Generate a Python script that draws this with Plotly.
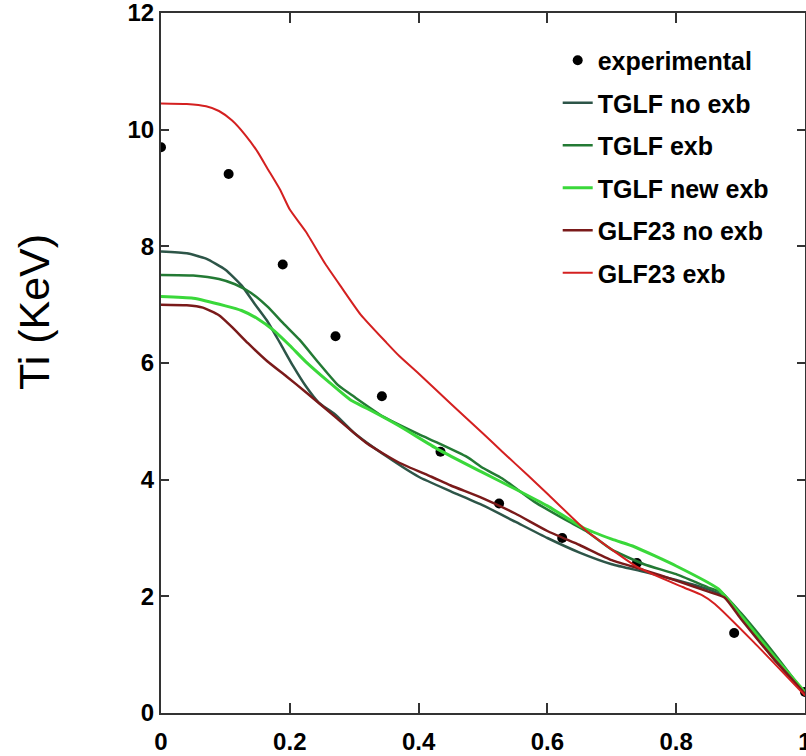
import plotly.graph_objects as go

# ---------------- data ----------------
exp_x = [0.0, 0.105, 0.189, 0.271, 0.343, 0.434, 0.525, 0.623, 0.739, 0.890, 1.0]
exp_y = [9.70, 9.24, 7.69, 6.46, 5.43, 4.48, 3.59, 3.00, 2.57, 1.37, 0.36]

tglf_noexb_x = [0, 0.04, 0.07, 0.10, 0.125, 0.145, 0.165, 0.185, 0.205, 0.225, 0.245, 0.27, 0.3, 0.35,
                0.4, 0.45, 0.5, 0.55, 0.6, 0.65, 0.7, 0.75, 0.8, 0.85, 0.875, 0.9, 0.95, 1.0]
tglf_noexb_y = [7.91, 7.88, 7.79, 7.60, 7.33, 7.02, 6.72, 6.34, 5.95, 5.60, 5.32, 5.12, 4.80, 4.40,
                4.05, 3.80, 3.56, 3.28, 3.00, 2.75, 2.55, 2.42, 2.28, 2.12, 2.0, 1.65, 0.95, 0.33]

tglf_exb_x = [0, 0.05, 0.09, 0.115, 0.14, 0.165, 0.19, 0.215, 0.245, 0.275, 0.3, 0.345, 0.4, 0.43, 0.475,
              0.5, 0.53, 0.58, 0.63, 0.66, 0.7, 0.75, 0.8, 0.85, 0.87, 0.9, 0.95, 1.0]
tglf_exb_y = [7.51, 7.50, 7.44, 7.35, 7.20, 6.97, 6.68, 6.40, 6.0, 5.62, 5.42, 5.08, 4.78, 4.63, 4.39,
              4.20, 4.02, 3.62, 3.30, 3.12, 2.80, 2.55, 2.38, 2.15, 2.07, 1.72, 1.05, 0.33]

tglf_newexb_x = [0, 0.05, 0.1, 0.125, 0.15, 0.175, 0.2, 0.225, 0.26, 0.295, 0.32, 0.37, 0.43, 0.5,
                 0.55, 0.6, 0.655, 0.7, 0.735, 0.8, 0.865, 0.9, 0.95, 1.0]
tglf_newexb_y = [7.14, 7.11, 6.98, 6.90, 6.76, 6.56, 6.30, 6.02, 5.68, 5.36, 5.22, 4.92, 4.52, 4.12,
                 3.84, 3.55, 3.18, 2.98, 2.85, 2.52, 2.13, 1.68, 1.0, 0.36]

glf23_noexb_x = [0, 0.04, 0.065, 0.09, 0.11, 0.135, 0.165, 0.195, 0.225, 0.27, 0.32, 0.37, 0.42, 0.45,
                 0.5, 0.55, 0.6, 0.65, 0.7, 0.75, 0.8, 0.85, 0.875, 0.9, 0.95, 1.0]
glf23_noexb_y = [7.0, 6.99, 6.95, 6.82, 6.62, 6.34, 6.03, 5.77, 5.50, 5.08, 4.62, 4.29, 4.05, 3.90,
                 3.68, 3.42, 3.12, 2.88, 2.62, 2.45, 2.27, 2.08, 1.98, 1.62, 0.95, 0.33]

glf23_exb_x = [0, 0.04, 0.07, 0.09, 0.11, 0.13, 0.15, 0.165, 0.185, 0.2, 0.225, 0.255, 0.28, 0.31, 0.35,
               0.37, 0.4, 0.45, 0.5, 0.53, 0.57, 0.6, 0.66, 0.74, 0.81, 0.84, 0.86, 0.92, 1.0]
glf23_exb_y = [10.45, 10.44, 10.40, 10.32, 10.16, 9.92, 9.62, 9.34, 8.97, 8.63, 8.25, 7.7, 7.3, 6.83, 6.35,
               6.12, 5.82, 5.30, 4.79, 4.48, 4.07, 3.76, 3.13, 2.50, 2.16, 2.02, 1.87, 1.22, 0.30]

x_ticks = [0, 0.2, 0.4, 0.6, 0.8, 1.0]
x_ticktext = ["0", "0.2", "0.4", "0.6", "0.8", "1"]
y_ticks = [0, 2, 4, 6, 8, 10, 12]
y_ticktext = ["0", "2", "4", "6", "8", "10", "12"]

FONT = "Liberation Sans, Arial"

# ---------------- figure ----------------
fig = go.Figure()
fig.add_trace(go.Scatter(x=exp_x, y=exp_y, mode="markers", name="experimental",
                         marker=dict(color="black", size=10), legendgroup="a"))
fig.add_trace(go.Scatter(x=tglf_noexb_x, y=tglf_noexb_y, mode="lines", name="TGLF no exb",
                         line=dict(color="#2d5548", width=2.5, shape="spline", smoothing=0.5), legendgroup="b"))
fig.add_trace(go.Scatter(x=tglf_exb_x, y=tglf_exb_y, mode="lines", name="TGLF exb",
                         line=dict(color="#237a34", width=2.5, shape="spline", smoothing=0.5), legendgroup="c"))
fig.add_trace(go.Scatter(x=tglf_newexb_x, y=tglf_newexb_y, mode="lines", name="TGLF new exb",
                         line=dict(color="#3ad83a", width=3, shape="spline", smoothing=0.5), legendgroup="d"))
fig.add_trace(go.Scatter(x=glf23_noexb_x, y=glf23_noexb_y, mode="lines", name="GLF23 no exb",
                         line=dict(color="#7a1a1a", width=2.5, shape="spline", smoothing=0.5), legendgroup="e"))
fig.add_trace(go.Scatter(x=glf23_exb_x, y=glf23_exb_y, mode="lines", name="GLF23 exb",
                         line=dict(color="#d42020", width=2, shape="spline", smoothing=0.5), legendgroup="f"))

axis_common = dict(showgrid=False, zeroline=False, showline=True, linecolor="#333333", linewidth=2,
                   ticks="inside", tickcolor="#333333", tickwidth=1.5, mirror="ticks",
                   tickfont=dict(family=FONT, size=24, color="black", weight="bold"),
                   ticklabeloverflow="allow", automargin=False)

fig.update_layout(
    width=806, height=756,
    margin=dict(l=161, r=1, t=13, b=43),
    paper_bgcolor="white", plot_bgcolor="white",
    font=dict(family=FONT, color="black"),
    xaxis=dict(range=[0, 1], tickvals=x_ticks, ticktext=x_ticktext, ticklen=10,
               ticklabelstandoff=6, **axis_common),
    yaxis=dict(range=[0, 12], tickvals=y_ticks, ticktext=y_ticktext, ticklen=8, **axis_common),
    legend=dict(x=0.616, y=0.965, xanchor="left", yanchor="top", bgcolor="rgba(255,255,255,0)",
                borderwidth=0, traceorder="grouped", tracegroupgap=7,
                font=dict(family=FONT, size=25, color="black", weight="bold")),
    showlegend=True,
    annotations=[dict(text="Ti (KeV)", textangle=-90, xref="paper", yref="paper",
                      x=-0.197, y=0.573, xanchor="center", yanchor="middle", showarrow=False,
                      font=dict(family=FONT, size=43, color="black"))],
)

fig.write_html("out.html")
